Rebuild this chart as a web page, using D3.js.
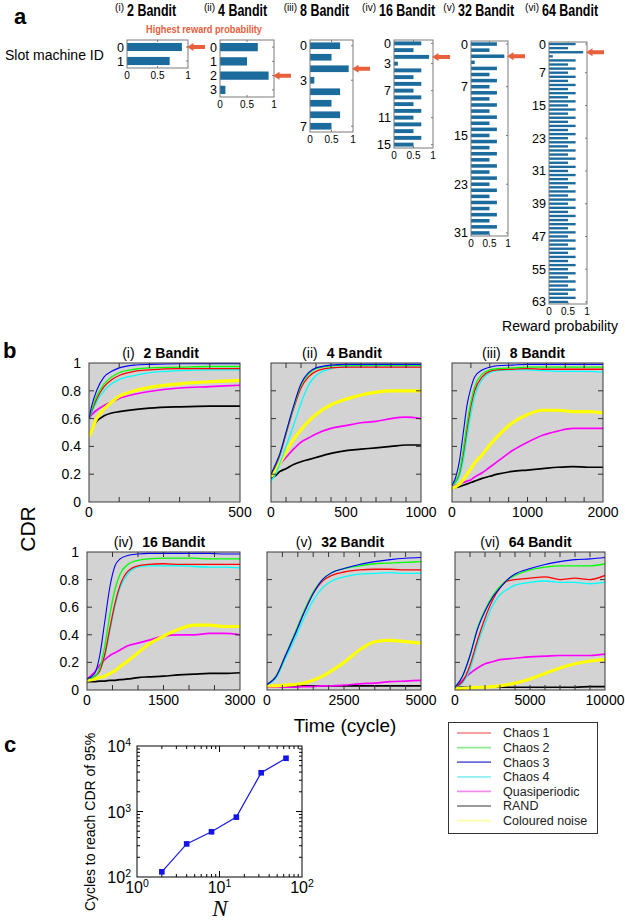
<!DOCTYPE html>
<html>
<head>
<meta charset="utf-8">
<script src="https://cdn.jsdelivr.net/npm/d3@7"></script>
<style>
  body { margin: 0; background: #fff; }
  svg { font-family: "Liberation Sans", Arial, sans-serif; }
</style>
</head>
<body>
<svg id="fig" width="625" height="923"></svg>
<script>
// ---- panel a data ----
const banditTitles = ['2 Bandit', '4 Bandit', '8 Bandit', '16 Bandit', '32 Bandit', '64 Bandit']
const banditRoman = ['(i)', '(ii)', '(iii)', '(iv)', '(v)', '(vi)']
const rewardProb2 = [0.9, 0.7]
const rewardProb4 = [0.7, 0.5, 0.9, 0.1]
const rewardProb8 = [0.7, 0.5, 0.9, 0.1, 0.7, 0.5, 0.7, 0.5]
const rewardProb16 = [0.7, 0.5, 0.9, 0.1, 0.7, 0.5, 0.7, 0.5, 0.7, 0.5, 0.7, 0.5, 0.7, 0.5, 0.7, 0.5]
const rewardProb32 = [0.7, 0.5, 0.9, 0.1, 0.7, 0.5, 0.7, 0.5, 0.7, 0.5, 0.7, 0.5, 0.7, 0.5, 0.7, 0.5,
  0.7, 0.5, 0.7, 0.5, 0.7, 0.5, 0.7, 0.5, 0.7, 0.5, 0.7, 0.5, 0.7, 0.5, 0.7, 0.5]
const rewardProb64 = [0.7, 0.5, 0.9, 0.1, 0.7, 0.5, 0.7, 0.5, 0.7, 0.5, 0.7, 0.5, 0.7, 0.5, 0.7, 0.5,
  0.7, 0.5, 0.7, 0.5, 0.7, 0.5, 0.7, 0.5, 0.7, 0.5, 0.7, 0.5, 0.7, 0.5, 0.7, 0.5,
  0.7, 0.5, 0.7, 0.5, 0.7, 0.5, 0.7, 0.5, 0.7, 0.5, 0.7, 0.5, 0.7, 0.5, 0.7, 0.5,
  0.7, 0.5, 0.7, 0.5, 0.7, 0.5, 0.7, 0.5, 0.7, 0.5, 0.7, 0.5, 0.7, 0.5, 0.7, 0.5]
const idTicks2 = [0, 1]
const idTicks4 = [0, 1, 2, 3]
const idTicks8 = [0, 3, 7]
const idTicks16 = [0, 3, 7, 11, 15]
const idTicks32 = [0, 7, 15, 23, 31]
const idTicks64 = [0, 7, 15, 23, 31, 39, 47, 55, 63]
const probTicks = [0, 0.5, 1]

// ---- panel b data ----
const seriesNames = ['Chaos 1', 'Chaos 2', 'Chaos 3', 'Chaos 4', 'Quasiperiodic', 'RAND', 'Coloured noise']
const cdrTicks = [0, 0.2, 0.4, 0.6, 0.8, 1]

const time2 = [0, 10, 25, 50, 75, 100, 150, 200, 300, 400, 500]
const cdr2 = [
  [0.6, 0.66, 0.74, 0.83, 0.88, 0.91, 0.94, 0.95, 0.96, 0.96, 0.96],
  [0.6, 0.67, 0.76, 0.85, 0.9, 0.93, 0.955, 0.965, 0.97, 0.975, 0.975],
  [0.6, 0.7, 0.8, 0.9, 0.94, 0.965, 0.985, 0.99, 0.995, 0.995, 0.995],
  [0.6, 0.65, 0.72, 0.8, 0.85, 0.88, 0.91, 0.93, 0.945, 0.95, 0.95],
  [0.6, 0.63, 0.66, 0.695, 0.72, 0.745, 0.775, 0.795, 0.82, 0.83, 0.84],
  [0.48, 0.53, 0.58, 0.62, 0.64, 0.65, 0.665, 0.675, 0.685, 0.69, 0.69],
  [0.47, 0.52, 0.6, 0.67, 0.72, 0.76, 0.8, 0.825, 0.85, 0.865, 0.875]
]

const time4 = [0, 30, 60, 100, 150, 200, 250, 300, 400, 500, 600, 700, 800, 900, 1000]
const cdr4 = [
  [0.2, 0.26, 0.34, 0.49, 0.67, 0.82, 0.9, 0.94, 0.965, 0.97, 0.97, 0.97, 0.97, 0.97, 0.97],
  [0.2, 0.27, 0.35, 0.5, 0.68, 0.84, 0.92, 0.96, 0.98, 0.985, 0.985, 0.985, 0.985, 0.985, 0.985],
  [0.2, 0.27, 0.35, 0.5, 0.69, 0.85, 0.93, 0.965, 0.985, 0.99, 0.99, 0.99, 0.99, 0.99, 0.99],
  [0.15, 0.2, 0.28, 0.4, 0.55, 0.71, 0.84, 0.91, 0.96, 0.975, 0.98, 0.98, 0.98, 0.98, 0.98],
  [0.18, 0.22, 0.27, 0.32, 0.38, 0.43, 0.46, 0.49, 0.53, 0.55, 0.57, 0.58, 0.6, 0.61, 0.6],
  [0.17, 0.19, 0.22, 0.24, 0.27, 0.29, 0.305, 0.32, 0.35, 0.37, 0.38, 0.39, 0.4, 0.41, 0.41],
  [0.18, 0.23, 0.28, 0.36, 0.45, 0.52, 0.58, 0.63, 0.7, 0.74, 0.77, 0.79, 0.8, 0.8, 0.8]
]

const time8 = [0, 50, 100, 150, 200, 250, 300, 400, 500, 600, 800, 1000, 1200, 1400, 1600, 1800, 2000]
const cdr8 = [
  [0.12, 0.15, 0.21, 0.35, 0.53, 0.69, 0.8, 0.9, 0.94, 0.95, 0.955, 0.96, 0.955, 0.955, 0.955, 0.955, 0.955],
  [0.12, 0.15, 0.22, 0.38, 0.57, 0.72, 0.83, 0.92, 0.95, 0.96, 0.965, 0.97, 0.97, 0.97, 0.97, 0.97, 0.97],
  [0.12, 0.18, 0.3, 0.5, 0.7, 0.82, 0.9, 0.95, 0.97, 0.98, 0.985, 0.99, 0.99, 0.99, 0.99, 0.99, 0.99],
  [0.12, 0.14, 0.19, 0.3, 0.47, 0.63, 0.76, 0.88, 0.93, 0.945, 0.95, 0.95, 0.945, 0.94, 0.94, 0.94, 0.935],
  [0.12, 0.12, 0.13, 0.14, 0.15, 0.16, 0.18, 0.21, 0.25, 0.29, 0.37, 0.43, 0.48, 0.51, 0.53, 0.53, 0.53],
  [0.1, 0.105, 0.11, 0.12, 0.13, 0.14, 0.15, 0.17, 0.185, 0.2, 0.22, 0.23, 0.24, 0.25, 0.255, 0.25, 0.25],
  [0.1, 0.11, 0.13, 0.16, 0.2, 0.24, 0.28, 0.34, 0.41, 0.47, 0.57, 0.63, 0.66, 0.66, 0.65, 0.65, 0.64]
]

const time16 = [0, 150, 250, 350, 450, 550, 650, 800, 1000, 1200, 1500, 1800, 2100, 2400, 2700, 3000]
const cdr16 = [
  [0.08, 0.1, 0.14, 0.26, 0.45, 0.63, 0.76, 0.86, 0.9, 0.91, 0.915, 0.91, 0.91, 0.91, 0.91, 0.91],
  [0.08, 0.1, 0.16, 0.32, 0.55, 0.73, 0.84, 0.91, 0.94, 0.95, 0.955, 0.955, 0.955, 0.95, 0.95, 0.95],
  [0.08, 0.12, 0.25, 0.5, 0.75, 0.9, 0.95, 0.975, 0.985, 0.99, 0.99, 0.99, 0.99, 0.99, 0.985, 0.985],
  [0.08, 0.1, 0.14, 0.25, 0.43, 0.61, 0.74, 0.84, 0.89, 0.9, 0.9, 0.9, 0.895, 0.89, 0.89, 0.885],
  [0.08, 0.13, 0.18, 0.22, 0.25, 0.27, 0.29, 0.32, 0.34, 0.36, 0.39, 0.4, 0.4, 0.41, 0.41, 0.4],
  [0.06, 0.06, 0.065, 0.065, 0.07, 0.07, 0.075, 0.08, 0.09, 0.095, 0.1, 0.11, 0.115, 0.12, 0.12, 0.125],
  [0.07, 0.08, 0.09, 0.1, 0.12, 0.14, 0.17, 0.21, 0.27, 0.33, 0.39, 0.44, 0.47, 0.47, 0.46, 0.46]
]

const time32 = [0, 300, 600, 900, 1200, 1500, 1800, 2100, 2500, 3000, 3500, 4000, 4500, 5000]
const cdr32 = [
  [0.04, 0.1, 0.25, 0.4, 0.56, 0.7, 0.79, 0.83, 0.855, 0.87, 0.875, 0.875, 0.87, 0.87],
  [0.04, 0.1, 0.25, 0.41, 0.57, 0.71, 0.8, 0.85, 0.88, 0.9, 0.915, 0.92, 0.925, 0.93],
  [0.04, 0.1, 0.25, 0.4, 0.56, 0.7, 0.8, 0.85, 0.88, 0.91, 0.93, 0.945, 0.955, 0.96],
  [0.04, 0.09, 0.23, 0.37, 0.52, 0.65, 0.74, 0.79, 0.82, 0.84, 0.845, 0.85, 0.845, 0.845],
  [0.02, 0.02, 0.02, 0.02, 0.025, 0.025, 0.03, 0.03, 0.035, 0.045, 0.05, 0.06, 0.065, 0.07],
  [0.03, 0.03, 0.03, 0.03, 0.03, 0.03, 0.03, 0.03, 0.03, 0.03, 0.03, 0.03, 0.03, 0.03],
  [0.03, 0.03, 0.035, 0.04, 0.05, 0.07, 0.1, 0.14, 0.2, 0.29, 0.35, 0.36, 0.35, 0.34]
]

const time64 = [0, 500, 1000, 1500, 2000, 2500, 3000, 3500, 4000, 5000, 6000, 7000, 8000, 9000, 10000]
const cdr64 = [
  [0.02, 0.06, 0.18, 0.36, 0.52, 0.65, 0.74, 0.79, 0.8, 0.81, 0.82, 0.8, 0.81, 0.8, 0.83],
  [0.02, 0.1, 0.25, 0.45, 0.58, 0.68, 0.75, 0.8, 0.83, 0.87, 0.89, 0.9, 0.9, 0.9, 0.915],
  [0.02, 0.1, 0.25, 0.44, 0.57, 0.67, 0.74, 0.8, 0.84, 0.88, 0.91, 0.93, 0.945, 0.95, 0.96],
  [0.02, 0.05, 0.15, 0.33, 0.48, 0.61, 0.69, 0.73, 0.76, 0.78, 0.79, 0.78, 0.78, 0.77, 0.78],
  [0.02, 0.07, 0.12, 0.16, 0.19, 0.205, 0.22, 0.225, 0.23, 0.24, 0.245, 0.25, 0.25, 0.25, 0.26],
  [0.02, 0.02, 0.02, 0.02, 0.02, 0.02, 0.02, 0.02, 0.02, 0.02, 0.02, 0.02, 0.02, 0.025, 0.025],
  [0.01, 0.01, 0.015, 0.02, 0.02, 0.025, 0.03, 0.04, 0.05, 0.08, 0.12, 0.16, 0.19, 0.21, 0.22]
]

// ---- panel c data ----
const banditN = [2, 4, 8, 16, 32, 64]
const cyclesTo95 = [120, 320, 490, 820, 3900, 6500]

// ---- styles ----
const seriesColors = ['#ff0000', '#00ff00', '#0000ff', '#00ffff', '#ff00ff', '#000000', '#ffff00']
const legendColors = ['#f5a0a0', '#8ee88e', '#6a6ad6', '#8ef0f0', '#f08cf0', '#9a9a9a', '#ffffa8']
const seriesWidths = [1.3, 1.3, 1.1, 1.3, 1.7, 1.7, 3.2]
const drawOrder = [5, 4, 6, 3, 0, 1, 2]
const arrowColor = '#e8603c'
const barColor = '#1b6b9c'

const svg = d3.select('#fig')

function panelLetter(txt, x, y){
  svg.append('text').attr('x', x).attr('y', y)
    .attr('font-size', 22).attr('font-weight', 'bold').text(txt)
}

// ================= panel a =================
panelLetter('a', 14, 24)

svg.append('text').attr('x', 5).attr('y', 60).attr('font-size', 14).text('Slot machine ID')

svg.append('text')
  .attr('transform', 'translate(204,33) scale(0.8,1)')
  .attr('text-anchor', 'middle').attr('font-size', 11.5).attr('font-weight', 'bold')
  .attr('fill', arrowColor).text('Highest reward probability')

const aBoxes = [
  {x0: 127, x1: 188, y0: 40, y1: 68, tx: 127},
  {x0: 220, x1: 274, y0: 40, y1: 97, tx: 218},
  {x0: 310, x1: 353, y0: 40, y1: 132, tx: 300},
  {x0: 394, x1: 433, y0: 40, y1: 148, tx: 379},
  {x0: 471, x1: 508, y0: 41, y1: 236, tx: 458},
  {x0: 549, x1: 587, y0: 42, y1: 304, tx: 542}
]
const probSets = [rewardProb2, rewardProb4, rewardProb8, rewardProb16, rewardProb32, rewardProb64]
const idTickSets = [idTicks2, idTicks4, idTicks8, idTicks16, idTicks32, idTicks64]

probSets.forEach((probs, k) => {
  const box = aBoxes[k]
  const g = svg.append('g').attr('class', 'bandit')
  const x = d3.scaleLinear().domain([0, 1]).range([box.x0, box.x1])
  const y = d3.scaleBand().domain(d3.range(probs.length))
    .range([box.y0, box.y1]).paddingInner(0.42).paddingOuter(0.21)

  g.selectAll('rect.bar').data(probs).enter().append('rect')
    .attr('class', 'bar')
    .attr('x', x(0))
    .attr('y', (d, i) => y(i))
    .attr('width', d => x(d) - x(0))
    .attr('height', y.bandwidth())
    .attr('fill', barColor)

  g.append('rect')
    .attr('x', box.x0).attr('y', box.y0)
    .attr('width', box.x1 - box.x0).attr('height', box.y1 - box.y0)
    .attr('fill', 'none').attr('stroke', '#7a7a7a').attr('stroke-width', 1)

  // id labels + right ticks
  g.selectAll('text.id').data(idTickSets[k]).enter().append('text')
    .attr('class', 'id')
    .attr('x', box.x0 - 3)
    .attr('y', d => y(d) + y.bandwidth() / 2)
    .attr('dy', '0.36em')
    .attr('text-anchor', 'end')
    .attr('font-size', 12.5)
    .text(d => d)
  g.selectAll('line.rt').data(idTickSets[k]).enter().append('line')
    .attr('x1', box.x1).attr('x2', box.x1 - 2)
    .attr('y1', d => y(d) + y.bandwidth() / 2).attr('y2', d => y(d) + y.bandwidth() / 2)
    .attr('stroke', '#7a7a7a')

  // probability ticks
  g.selectAll('text.pt').data(probTicks).enter().append('text')
    .attr('x', d => x(d)).attr('y', box.y1 + 10.5)
    .attr('text-anchor', 'middle').attr('font-size', 10)
    .text(d => d)
  g.selectAll('line.pb').data([0.5]).enter().append('line')
    .attr('x1', d => x(d)).attr('x2', d => x(d))
    .attr('y1', box.y1).attr('y2', box.y1 - 2).attr('stroke', '#7a7a7a')
  g.selectAll('line.pt').data([0.5]).enter().append('line')
    .attr('x1', d => x(d)).attr('x2', d => x(d))
    .attr('y1', box.y0).attr('y2', box.y0 + 2).attr('stroke', '#7a7a7a')

  // arrow at best machine
  const best = d3.maxIndex(probs)
  const cy = y(best) + y.bandwidth() / 2
  const tip = box.x1 - 1
  g.append('path')
    .attr('d', `M${tip},${cy} l6.5,-4 v2 h11.5 v4 h-11.5 v2 z`)
    .attr('fill', arrowColor)

  // title
  g.append('text').attr('x', box.tx - 3).attr('y', 11)
    .attr('text-anchor', 'end').attr('font-size', 10).text(banditRoman[k])
  g.append('text')
    .attr('transform', `translate(${box.tx},16) scale(0.78,1)`)
    .attr('font-size', 16).attr('font-weight', 'bold').text(banditTitles[k])
})

svg.append('text').attr('x', 560).attr('y', 331)
  .attr('text-anchor', 'middle').attr('font-size', 14).text('Reward probability')

// ================= panel b =================
panelLetter('b', 3, 358)

const cdrPanels = [
  {time: time2, cdr: cdr2, xMax: 500, xLabels: [0, 500], step: 100, x0: 89, x1: 240, y0: 363, y1: 502},
  {time: time4, cdr: cdr4, xMax: 1000, xLabels: [0, 500, 1000], step: 100, x0: 271, x1: 421, y0: 363, y1: 502},
  {time: time8, cdr: cdr8, xMax: 2000, xLabels: [0, 1000, 2000], step: 250, x0: 452, x1: 603, y0: 363, y1: 502},
  {time: time16, cdr: cdr16, xMax: 3000, xLabels: [0, 1500, 3000], step: 500, x0: 87, x1: 240, y0: 552, y1: 690},
  {time: time32, cdr: cdr32, xMax: 5000, xLabels: [0, 2500, 5000], step: 500, x0: 267, x1: 421, y0: 552, y1: 690},
  {time: time64, cdr: cdr64, xMax: 10000, xLabels: [0, 5000, 10000], step: 1000, x0: 455, x1: 605, y0: 552, y1: 690}
]

cdrPanels.forEach((p, k) => {
  const g = svg.append('g').attr('class', 'cdr')
  const x = d3.scaleLinear().domain([0, p.xMax]).range([p.x0, p.x1])
  const y = d3.scaleLinear().domain([0, 1]).range([p.y1, p.y0])
  const clipId = 'clip' + k

  g.append('clipPath').attr('id', clipId).append('rect')
    .attr('x', p.x0).attr('y', p.y0 - 2).attr('width', p.x1 - p.x0).attr('height', p.y1 - p.y0 + 2)

  g.append('rect')
    .attr('x', p.x0).attr('y', p.y0)
    .attr('width', p.x1 - p.x0).attr('height', p.y1 - p.y0)
    .attr('fill', '#d3d3d3')

  const line = d3.line()
    .x((d, i) => x(p.time[i]))
    .y(d => y(d))
    .curve(d3.curveMonotoneX)

  g.append('g').attr('clip-path', `url(#${clipId})`)
    .selectAll('path').data(drawOrder).enter().append('path')
    .attr('d', s => line(p.cdr[s]))
    .attr('fill', 'none')
    .attr('stroke', s => seriesColors[s])
    .attr('stroke-width', s => seriesWidths[s])
    .attr('stroke-linejoin', 'round')

  // inner ticks
  const yt = cdrTicks.slice(1, -1)
  g.selectAll('line.yl').data(yt).enter().append('line')
    .attr('x1', p.x0).attr('x2', p.x0 + 5).attr('y1', d => y(d)).attr('y2', d => y(d))
    .attr('stroke', '#333')
  g.selectAll('line.yr').data(yt).enter().append('line')
    .attr('x1', p.x1).attr('x2', p.x1 - 5).attr('y1', d => y(d)).attr('y2', d => y(d))
    .attr('stroke', '#333')
  const xt = d3.range(p.step, p.xMax, p.step)
  g.selectAll('line.xb').data(xt).enter().append('line')
    .attr('x1', d => x(d)).attr('x2', d => x(d)).attr('y1', p.y1).attr('y2', p.y1 - 5)
    .attr('stroke', '#333')
  g.selectAll('line.xt').data(xt).enter().append('line')
    .attr('x1', d => x(d)).attr('x2', d => x(d)).attr('y1', p.y0).attr('y2', p.y0 + 5)
    .attr('stroke', '#333')

  g.append('rect')
    .attr('x', p.x0).attr('y', p.y0)
    .attr('width', p.x1 - p.x0).attr('height', p.y1 - p.y0)
    .attr('fill', 'none').attr('stroke', '#3a3a3a').attr('stroke-width', 1)

  // x labels
  g.selectAll('text.xl').data(p.xLabels).enter().append('text')
    .attr('x', d => x(d)).attr('y', p.y1 + 15)
    .attr('text-anchor', 'middle').attr('font-size', 14)
    .text(d => d)

  // y labels only on first column
  if (k % 3 === 0) {
    g.selectAll('text.yl').data(cdrTicks).enter().append('text')
      .attr('x', p.x0 - 8).attr('y', d => y(d))
      .attr('dy', '0.36em')
      .attr('text-anchor', 'end').attr('font-size', 14)
      .text(d => d3.format('~g')(d))
  }

  // title
  const t = g.append('text')
    .attr('x', (p.x0 + p.x1) / 2 - 4).attr('y', p.y0 - 5)
    .attr('text-anchor', 'middle').attr('font-size', 14)
  t.append('tspan').text(banditRoman[k])
  t.append('tspan').attr('dx', 9).attr('font-weight', 'bold').text(banditTitles[k])
})

svg.append('text')
  .attr('transform', 'translate(35,529) rotate(-90)')
  .attr('text-anchor', 'middle').attr('font-size', 21).text('CDR')

svg.append('text').attr('x', 345).attr('y', 732)
  .attr('text-anchor', 'middle').attr('font-size', 19).text('Time (cycle)')

// legend
const lg = svg.append('g').attr('class', 'legend')
lg.append('rect').attr('x', 448.5).attr('y', 722.5).attr('width', 149).attr('height', 111)
  .attr('fill', '#fff').attr('stroke', '#333').attr('stroke-width', 1)
const item = lg.selectAll('g.item').data(seriesNames).enter().append('g')
  .attr('transform', (d, i) => `translate(0,${733 + i * 14.6})`)
item.append('line').attr('x1', 457).attr('x2', 491).attr('y1', 0).attr('y2', 0)
  .attr('stroke', (d, i) => legendColors[i]).attr('stroke-width', 1.8)
item.append('text').attr('x', 503).attr('y', 0).attr('dy', '0.35em')
  .attr('font-size', 12.5).attr('fill', '#222').text(d => d)

// ================= panel c =================
panelLetter('c', 4, 752)

const cx = d3.scaleLog().domain([1, 100]).range([137, 302])
const cy = d3.scaleLog().domain([100, 10000]).range([877, 746])
const gc = svg.append('g').attr('class', 'panel-c')

gc.append('rect').attr('x', 137).attr('y', 746).attr('width', 165).attr('height', 131)
  .attr('fill', '#fff').attr('stroke', '#000').attr('stroke-width', 1)

const minorX = d3.range(1, 3).flatMap(e => d3.range(2, 10).map(m => m * Math.pow(10, e - 1)))
const minorY = d3.range(3, 5).flatMap(e => d3.range(2, 10).map(m => m * Math.pow(10, e - 1)))
gc.selectAll('line.mx').data(minorX).enter().append('line')
  .attr('x1', d => cx(d)).attr('x2', d => cx(d)).attr('y1', 877).attr('y2', 874).attr('stroke', '#000')
gc.selectAll('line.mxt').data(minorX).enter().append('line')
  .attr('x1', d => cx(d)).attr('x2', d => cx(d)).attr('y1', 746).attr('y2', 749).attr('stroke', '#000')
gc.selectAll('line.my').data(minorY).enter().append('line')
  .attr('x1', 137).attr('x2', 140).attr('y1', d => cy(d)).attr('y2', d => cy(d)).attr('stroke', '#000')
gc.selectAll('line.myr').data(minorY).enter().append('line')
  .attr('x1', 302).attr('x2', 299).attr('y1', d => cy(d)).attr('y2', d => cy(d)).attr('stroke', '#000')
gc.append('line').attr('x1', cx(10)).attr('x2', cx(10)).attr('y1', 877).attr('y2', 871).attr('stroke', '#000')
gc.append('line').attr('x1', cx(10)).attr('x2', cx(10)).attr('y1', 746).attr('y2', 752).attr('stroke', '#000')
gc.append('line').attr('x1', 137).attr('x2', 143).attr('y1', cy(1000)).attr('y2', cy(1000)).attr('stroke', '#000')
gc.append('line').attr('x1', 302).attr('x2', 296).attr('y1', cy(1000)).attr('y2', cy(1000)).attr('stroke', '#000')

function powLabel(sel, exp){
  sel.append('tspan').text('10')
  sel.append('tspan').attr('dy', -6).attr('font-size', 10.5).text(exp)
}
;[0, 1, 2].forEach(e => {
  const t = gc.append('text').attr('x', cx(Math.pow(10, e))).attr('y', 893)
    .attr('text-anchor', 'middle').attr('font-size', 16)
  powLabel(t, e)
})
;[2, 3, 4].forEach(e => {
  const t = gc.append('text').attr('x', 131).attr('y', cy(Math.pow(10, e)) + 6)
    .attr('text-anchor', 'end').attr('font-size', 16)
  powLabel(t, e)
})

gc.append('path')
  .datum(banditN)
  .attr('d', d3.line().x(d => cx(d)).y((d, i) => cy(cyclesTo95[i])))
  .attr('fill', 'none').attr('stroke', '#1f1fe0').attr('stroke-width', 1.3)
gc.selectAll('rect.pt').data(banditN).enter().append('rect')
  .attr('x', d => cx(d) - 2.8)
  .attr('y', (d, i) => cy(cyclesTo95[i]) - 2.8)
  .attr('width', 5.6).attr('height', 5.6)
  .attr('fill', '#1414e8')

gc.append('text')
  .attr('transform', 'translate(95,822) rotate(-90)')
  .attr('text-anchor', 'middle').attr('font-size', 14).text('Cycles to reach CDR of 95%')

gc.append('text').attr('x', 220).attr('y', 916)
  .attr('text-anchor', 'middle').attr('font-size', 23)
  .attr('font-family', '"Liberation Serif", "Times New Roman", serif')
  .attr('font-style', 'italic').text('N')
</script>
</body>
</html>
